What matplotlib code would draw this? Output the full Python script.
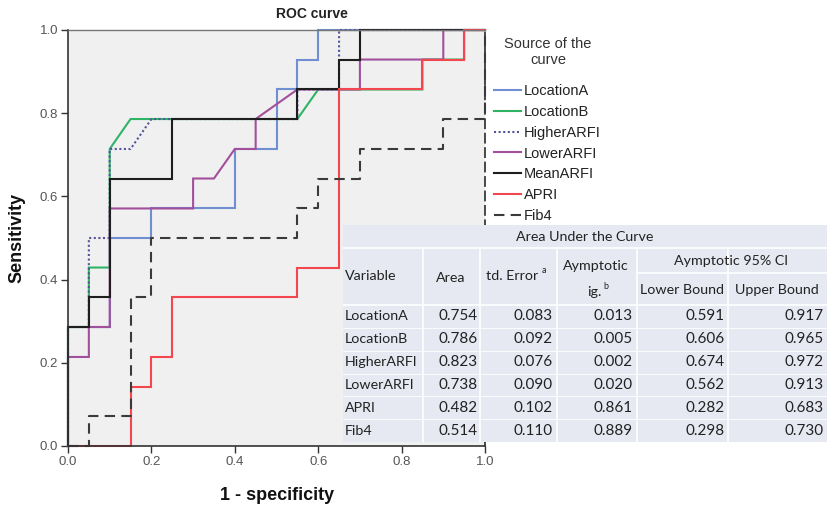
import matplotlib
matplotlib.use("Agg")
import matplotlib.pyplot as plt
from matplotlib.patches import Rectangle

plt.rcParams['font.family'] = ['Liberation Sans', 'DejaVu Sans']

# ROC curve vertices (1 - specificity, sensitivity)
locA_x = [0, 0, 0.1, 0.1, 0.2, 0.2, 0.4, 0.4, 0.5, 0.5, 0.55, 0.55, 0.6, 0.6, 1.0]
locA_y = [0, 0.286, 0.286, 0.5, 0.5, 0.571, 0.571, 0.714, 0.714, 0.857, 0.857, 0.929, 0.929, 1.0, 1.0]

locB_x = [0, 0, 0.05, 0.05, 0.1, 0.1, 0.15, 0.55, 0.6, 0.85, 0.85, 0.95, 0.95, 1.0]
locB_y = [0, 0.286, 0.286, 0.429, 0.429, 0.714, 0.786, 0.786, 0.857, 0.857, 0.929, 0.929, 1.0, 1.0]

high_x = [0, 0, 0.05, 0.05, 0.1, 0.1, 0.15, 0.2, 0.55, 0.55, 0.65, 0.65, 1.0]
high_y = [0, 0.286, 0.286, 0.5, 0.5, 0.714, 0.714, 0.786, 0.786, 0.857, 0.857, 1.0, 1.0]

low_x = [0, 0, 0.05, 0.05, 0.1, 0.1, 0.3, 0.3, 0.35, 0.4, 0.45, 0.45, 0.55, 0.7, 0.7, 0.9, 0.9, 1.0]
low_y = [0, 0.214, 0.214, 0.286, 0.286, 0.571, 0.571, 0.643, 0.643, 0.714, 0.714, 0.786, 0.857, 0.857, 0.929, 0.929, 1.0, 1.0]

mean_x = [0, 0, 0.05, 0.05, 0.1, 0.1, 0.25, 0.25, 0.55, 0.55, 0.65, 0.65, 0.7, 0.7, 1.0]
mean_y = [0, 0.286, 0.286, 0.357, 0.357, 0.643, 0.643, 0.786, 0.786, 0.857, 0.857, 0.929, 0.929, 1.0, 1.0]

apri_x = [0, 0.15, 0.15, 0.2, 0.2, 0.25, 0.25, 0.55, 0.55, 0.65, 0.65, 0.85, 0.85, 0.95, 0.95, 1.0]
apri_y = [0, 0, 0.143, 0.143, 0.214, 0.214, 0.357, 0.357, 0.429, 0.429, 0.857, 0.857, 0.929, 0.929, 1.0, 1.0]

fib4_x = [0, 0.05, 0.05, 0.15, 0.15, 0.2, 0.2, 0.55, 0.55, 0.6, 0.6, 0.7, 0.7, 0.9, 0.9, 1.0, 1.0]
fib4_y = [0, 0, 0.071, 0.071, 0.357, 0.357, 0.5, 0.5, 0.571, 0.571, 0.643, 0.643, 0.714, 0.714, 0.786, 0.786, 1.0]

# AUC summary table
variables = ["LocationA", "LocationB", "HigherARFI", "LowerARFI", "APRI", "Fib4"]
area = [0.754, 0.786, 0.823, 0.738, 0.482, 0.514]
std_error = [0.083, 0.092, 0.076, 0.090, 0.102, 0.110]
asym_sig = [0.013, 0.005, 0.002, 0.020, 0.861, 0.889]
lower_bound = [0.591, 0.606, 0.674, 0.562, 0.282, 0.298]
upper_bound = [0.917, 0.965, 0.972, 0.913, 0.683, 0.730]

ticks = [0.0, 0.2, 0.4, 0.6, 0.8, 1.0]

W, H = 827, 507
fig = plt.figure(figsize=(W / 100, H / 100), dpi=100)

def fx(px):
    return px / W

def fy(py):
    return 1 - py / H

ax = fig.add_axes([fx(68), fy(446), (485 - 68) / W, (446 - 30) / H])
ax.set_facecolor('#f0f0f0')
ax.set_xlim(0, 1)
ax.set_ylim(0, 1)

series = [
    (locA_x, locA_y, "LocationA", dict(color='#6f8fd2', ls='-')),
    (locB_x, locB_y, "LocationB", dict(color='#2fb466', ls='-')),
    (high_x, high_y, "HigherARFI", dict(color='#52549a', ls=(0, (1.0, 1.2)))),
    (low_x, low_y, "LowerARFI", dict(color='#a24f9c', ls='-')),
    (mean_x, mean_y, "MeanARFI", dict(color='#1e1e1e', ls='-')),
    (apri_x, apri_y, "APRI", dict(color='#f2474f', ls='-')),
    (fib4_x, fib4_y, "Fib4", dict(color='#3a3a3a', ls=(0, (5, 3)))),
]
for xs, ys, name, st in series:
    ax.plot(xs, ys, lw=1.5, label=name, clip_on=False, solid_joinstyle='miter', **st)

ax.set_xticks(ticks)
ax.set_yticks(ticks)
ax.set_xticklabels([f"{t:.1f}" for t in ticks])
ax.set_yticklabels([f"{t:.1f}" for t in ticks])
ax.tick_params(direction='out', length=5, width=1, colors='#333333', labelsize=9.5,
               labelcolor='#555555', pad=2)
for side in ['left', 'bottom']:
    ax.spines[side].set_color('#333333')
    ax.spines[side].set_linewidth(1.2)
ax.spines['top'].set_color('#777777')
ax.spines['top'].set_linewidth(1.0)
ax.spines['right'].set_color('#3a3a3a')
ax.spines['right'].set_linewidth(1.3)
ax.spines['right'].set_linestyle((0, (5, 3)))

fig.text(fx(312), fy(14), "ROC curve", ha='center', va='center', fontsize=10,
         fontweight='bold', color='#222222')
fig.text(fx(277), fy(495), "1 - specificity", ha='center', va='center', fontsize=13,
         fontweight='bold', color='#111111')
fig.text(fx(17), fy(238), "Sensitivity", ha='center', va='center', fontsize=13,
         fontweight='bold', color='#111111', rotation=90)

# Legend title and entries
fig.text(fx(548), fy(52), "Source of the\ncurve", ha='center', va='center',
         multialignment='center', fontsize=10.5, color='#333333', linespacing=1.15)
leg = ax.legend(loc='upper left', bbox_to_anchor=(fx(494), fy(84)),
                bbox_transform=fig.transFigure, frameon=False, fontsize=10.5,
                handlelength=1.85, handletextpad=0.22, labelspacing=0.47,
                borderpad=0, borderaxespad=0)
for t in leg.get_texts():
    t.set_color('#222222')

# Table panel
tab = fig.add_axes([fx(343), fy(442), (827 - 343) / W, (442 - 225) / H])
tab.set_xlim(343, 827)
tab.set_ylim(442, 225)
tab.axis('off')
tab.add_patch(Rectangle((343, 225), 484, 217, facecolor='#e6e9f2', edgecolor='none'))

col_edges = [343, 423, 480, 557, 637, 728, 827]
row_top = 305
row_h = (442 - 305) / 6
line_kw = dict(color='white', lw=1.2)
tab.plot([343, 827], [248, 248], **line_kw)
tab.plot([637, 827], [273, 273], **line_kw)
tab.plot([343, 827], [row_top, row_top], **line_kw)
for k in range(1, 6):
    yk = row_top + k * row_h
    tab.plot([343, 827], [yk, yk], color='white', lw=0.6)
for cx in col_edges[1:-1]:
    tab.plot([cx, cx], [248, 442], **line_kw)

tf = ['Lato', 'DejaVu Sans']
tfont = dict(family=tf, fontsize=10.3, color='#222222')
nfont = dict(family=tf, fontsize=11, color='#222222')
tab.text(585, 237, "Area Under the Curve", ha='center', va='center', **tfont)
tab.text(345, 276, "Variable", ha='left', va='center', **tfont)
tab.text(451, 278, "Area", ha='center', va='center', **tfont)
tab.text(486, 276, "td. Error", ha='left', va='center', **tfont)
tab.text(542, 270, "a", ha='left', va='center', family=tf, fontsize=6.5, color='#222222')
tab.text(596, 266, "Aymptotic", ha='center', va='center', **tfont)
tab.text(594, 292, "ig.", ha='center', va='center', **tfont)
tab.text(603, 286, "b", ha='left', va='center', family=tf, fontsize=6.5, color='#222222')
tab.text(731, 261, "Aymptotic 95% CI", ha='center', va='center', **tfont)
tab.text(682, 290, "Lower Bound", ha='center', va='center', **tfont)
tab.text(777, 290, "Upper Bound", ha='center', va='center', **tfont)

right_edges = [478, 553, 633, 725, 824]
for i, name in enumerate(variables):
    yc = row_top + (i + 0.5) * row_h
    tab.text(345, yc, name, ha='left', va='center', **tfont)
    for xr, col in zip(right_edges, [area, std_error, asym_sig, lower_bound, upper_bound]):
        tab.text(xr, yc, f"{col[i]:.3f}", ha='right', va='center', **nfont)

fig.savefig("out.png", dpi=100)
